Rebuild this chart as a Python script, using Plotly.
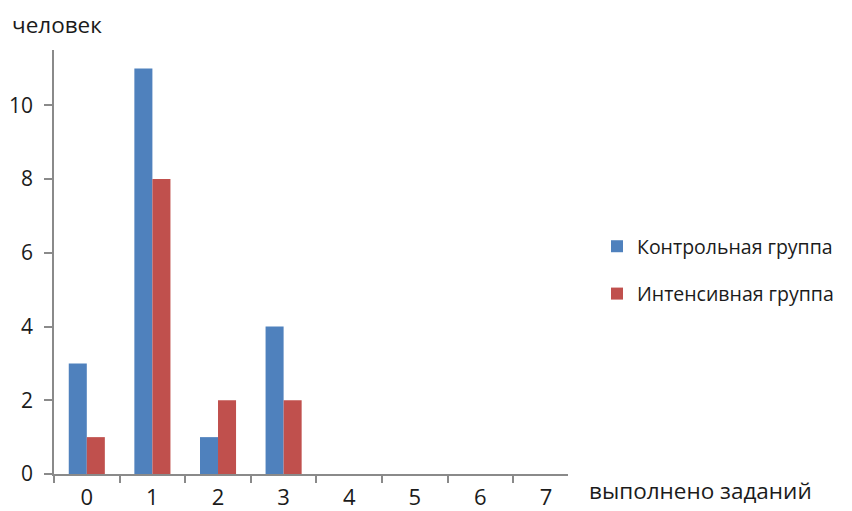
import plotly.graph_objects as go

categories = ["0", "1", "2", "3", "4", "5", "6", "7"]
control = [3, 11, 1, 4, 0, 0, 0, 0]
intensive = [1, 8, 2, 2, 0, 0, 0, 0]
series_names = ["Контрольная группа", "Интенсивная группа"]
y_title = "человек"
x_title = "выполнено заданий"

FONT = "Open Sans"
TXT = "#1b1b1b"
fig = go.Figure()
fig.add_trace(go.Bar(x=categories, y=control, name=series_names[0],
                     marker=dict(color="#4F81BD", line=dict(width=0)), legendgroup="a"))
fig.add_trace(go.Bar(x=categories, y=intensive, name=series_names[1],
                     marker=dict(color="#C0504D", line=dict(width=0)), legendgroup="b"))

fig.update_layout(
    width=852, height=511,
    margin=dict(l=46, r=292, t=42, b=45, autoexpand=False),
    plot_bgcolor="white", paper_bgcolor="white",
    barmode="group", bargap=0.45, bargroupgap=0,
    font=dict(family=FONT, size=21, color=TXT),
    showlegend=True,
    legend=dict(x=1.0564, y=0.481, xanchor="left", yanchor="middle",
                traceorder="grouped", tracegroupgap=19,
                font=dict(family=FONT, size=19.5, color=TXT),
                itemwidth=30),
    xaxis=dict(type="category", tickson="boundaries", ticks="outside", ticklen=7,
               tickcolor="#8a8a8a", tickwidth=1.5, showline=True, linecolor="#8a8a8a",
               linewidth=1.5, showgrid=False, range=[-0.5, 7.335],
               ticklabelstandoff=3,
               tickfont=dict(size=22, color=TXT)),
    yaxis=dict(range=[0, 11.5], dtick=2, ticks="outside", ticklen=8, tickcolor="#8a8a8a",
               tickwidth=1.5, showline=True, linecolor="#8a8a8a", linewidth=1.5,
               showgrid=False, zeroline=False, ticklabelstandoff=7,
               tickfont=dict(size=21, color=TXT)),
    annotations=[
        dict(text=y_title, xref="paper", yref="paper", x=-0.0856, y=1.059,
             xanchor="left", yanchor="middle", showarrow=False,
             font=dict(family=FONT, size=22.5, color=TXT)),
        dict(text=x_title, xref="paper", yref="paper", x=1.039, y=-0.038,
             xanchor="left", yanchor="middle", showarrow=False, borderpad=0,
             font=dict(family=FONT, size=22.5, color=TXT)),
    ],
)
fig.write_html("out.html")
